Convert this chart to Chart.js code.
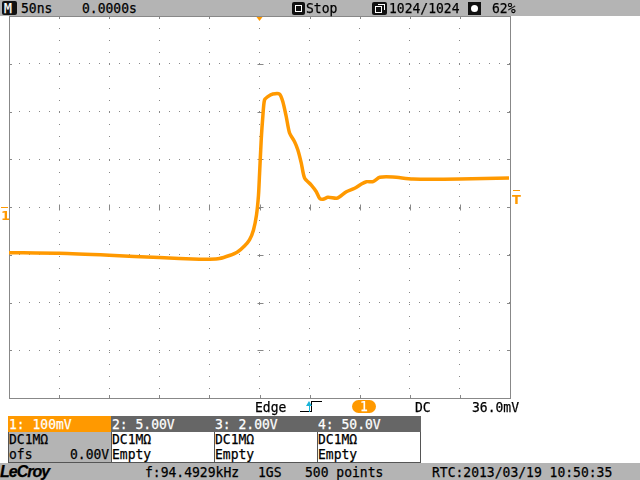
<!DOCTYPE html>
<html>
<head>
    <title>LeCroy capture</title>
    <script src="https://cdn.jsdelivr.net/npm/chart.js@4.4.0/dist/chart.umd.min.js"></script>
    <style>
        body { margin: 0; width: 640px; height: 480px; overflow: hidden; background: #fff; position: relative; }
        #scope { position: absolute; left: 0; top: 0; }
        .t { position: absolute; font: 14px 'DejaVu Sans Mono', monospace; line-height: 14px; white-space: pre; color: #000;
             transform: scaleX(0.93); transform-origin: 0 0; -webkit-text-stroke: 0.25px currentColor; }
        .bar { position: absolute; left: 0; width: 640px; background: #b4b4b4; }
        .box { position: absolute; border: 1px solid #555; box-sizing: border-box; }
    </style>
</head>
<body>
    <canvas id="scope" width="640" height="480"></canvas>

    <!-- top status bar -->
    <div class="bar" style="top:0;height:16px"></div>
    <div class="box" style="left:2px;top:1px;width:15px;height:14px;background:#111;border-radius:2px;border:none"></div>
    <div class="t" style="left:4px;top:1px;color:#fff">M</div>
    <div class="t" style="left:21px;top:1px">50ns</div>
    <div class="t" style="left:82px;top:1px">0.0000s</div>
    <div class="box" style="left:292px;top:2px;width:13px;height:13px;background:#111;border:none;border-radius:2px"></div>
    <div class="box" style="left:295px;top:5px;width:7px;height:7px;background:#111;border:1px solid #fff"></div>
    <div class="t" style="left:306px;top:1px">Stop</div>
    <div class="box" style="left:372px;top:2px;width:15px;height:13px;background:#111;border:none;border-radius:2px"></div>
    <div class="box" style="left:375px;top:6px;width:7px;height:7px;border:1px solid #fff"></div>
    <div class="box" style="left:378px;top:4px;width:7px;height:6px;border-top:1px solid #fff;border-right:1px solid #fff;border-left:none;border-bottom:none"></div>
    <div class="t" style="left:389px;top:1px">1024/1024</div>
    <div class="box" style="left:468px;top:2px;width:13px;height:13px;background:#111;border:none"></div>
    <div class="box" style="left:471px;top:5px;width:7px;height:7px;background:#fff;border:none;border-radius:4px"></div>
    <div class="t" style="left:492px;top:1px">62%</div>

    <!-- trigger line -->
    <div class="t" style="left:255px;top:400px">Edge</div>
    <div class="box" style="left:300px;top:401px;width:12px;height:11px;border:none;border-bottom:1px solid #000;border-right:1px solid #000"></div>
    <div class="box" style="left:311px;top:401px;width:11px;height:1px;border:none;background:#000"></div>
    <div class="box" style="left:309px;top:405px;width:1px;height:7px;border:none;background:#19b4d8"></div>
    <div style="position:absolute;left:306px;top:401px;width:0;height:0;border-left:3.5px solid transparent;border-right:3.5px solid transparent;border-bottom:5px solid #19b4d8"></div>
    <div class="box" style="left:352px;top:400px;width:24px;height:13px;background:#ff9900;border:none;border-radius:7px"></div>
    <div class="t" style="left:360px;top:399px;color:#fff">1</div>
    <div class="t" style="left:415px;top:400px">DC</div>
    <div class="t" style="left:472px;top:400px">36.0mV</div>

    <!-- channel boxes -->
    <div class="box" style="left:8px;top:416px;width:104px;height:47px;background:#b4b4b4"></div>
    <div class="box" style="left:8px;top:416px;width:104px;height:16px;background:#ff9900;border:none"></div>
    <div class="t" style="left:9px;top:417px;color:#fff">1: 100mV</div>
    <div class="t" style="left:9px;top:432px">DC1MΩ</div>
    <div class="t" style="left:9px;top:447px">ofs</div>
    <div class="t" style="left:70px;top:447px">0.00V</div>

    <div class="box" style="left:111px;top:416px;width:104px;height:47px;background:#fff"></div>
    <div class="box" style="left:111px;top:416px;width:104px;height:16px;background:#666;border:none"></div>
    <div class="t" style="left:112px;top:417px;color:#fff">2: 5.00V</div>
    <div class="t" style="left:112px;top:432px">DC1MΩ</div>
    <div class="t" style="left:112px;top:447px">Empty</div>

    <div class="box" style="left:214px;top:416px;width:104px;height:47px;background:#fff"></div>
    <div class="box" style="left:214px;top:416px;width:104px;height:16px;background:#666;border:none"></div>
    <div class="t" style="left:215px;top:417px;color:#fff">3: 2.00V</div>
    <div class="t" style="left:215px;top:432px">DC1MΩ</div>
    <div class="t" style="left:215px;top:447px">Empty</div>

    <div class="box" style="left:317px;top:416px;width:104px;height:47px;background:#fff"></div>
    <div class="box" style="left:317px;top:416px;width:104px;height:16px;background:#666;border:none"></div>
    <div class="t" style="left:318px;top:417px;color:#fff">4: 50.0V</div>
    <div class="t" style="left:318px;top:432px">DC1MΩ</div>
    <div class="t" style="left:318px;top:447px">Empty</div>

    <!-- footer -->
    <div class="bar" style="top:463px;height:17px"></div>
    <div class="t" style="left:0px;top:464px;font:italic bold 16px 'Liberation Sans';letter-spacing:-1px;line-height:16px;transform:none">LeCroy</div>
    <div class="t" style="left:145px;top:465px">f:94.4929kHz</div>
    <div class="t" style="left:258px;top:465px">1GS</div>
    <div class="t" style="left:305px;top:465px">500 points</div>
    <div class="t" style="left:432px;top:465px">RTC:2013/03/19 10:50:35</div>

    <script>
        // channel 1 trace, time in ns (trigger at 0), voltage in mV
        var timeNs = [-250, -200, -150, -100, -60, -50, -40, -30, -22, -15, -10, -6, -3, -1, 0,
                      1.7, 3.3, 5, 8.3, 13.3, 20, 23.3, 26.7, 30, 35, 38.3, 41.7, 45, 51.7, 56.7,
                      60, 63.3, 68.3, 76.7, 80, 86.7, 95, 101.7, 106.7, 113.3, 120, 133, 153, 200, 249];
        var ch1mV = [-95.7, -97, -101, -106, -109.5, -109.5, -108, -101.6, -94.2, -81.7, -69, -48, -16.8, 25, 67,
                     140, 189, 224, 231, 236.6, 236.6, 220.5, 189, 155, 136.8, 119.4, 92, 60.7, 46, 32,
                     18.2, 16.1, 20.3, 18.2, 21.6, 32, 39.2, 48.2, 53, 53, 62.2, 62.8, 58.6, 58.6, 60.7];

        var timeDiv = 50;      // ns/div
        var voltDiv = 100;     // mV/div
        var trigLevel = 36;    // mV
        var orange = '#ff9900';

        var points = timeNs.map(function (t, i) { return { x: t, y: ch1mV[i] }; });

        // border, division ticks and channel / trigger markers
        var scopeFrame = {
            id: 'scopeFrame',
            beforeDatasetsDraw: function (chart) {
                var c = chart.ctx, a = chart.chartArea;
                var xs = chart.scales.x, ys = chart.scales.y;
                c.save();
                c.strokeStyle = '#888';
                c.lineWidth = 1;
                c.strokeRect(a.left + 0.5, a.top + 0.5, a.right - a.left, a.bottom - a.top);
                var cx = Math.round(xs.getPixelForValue(0)) + 0.5;
                var cy = Math.round(ys.getPixelForValue(0)) + 0.5;
                c.beginPath();
                for (var t = -5 * timeDiv; t <= 5 * timeDiv; t += timeDiv) {
                    var px = Math.round(xs.getPixelForValue(t)) + 0.5;
                    c.moveTo(px, a.top); c.lineTo(px, a.top + 3);
                    c.moveTo(px, a.bottom); c.lineTo(px, a.bottom - 3);
                    c.moveTo(px, cy - 3); c.lineTo(px, cy + 3);
                }
                for (var v = -4 * voltDiv; v <= 4 * voltDiv; v += voltDiv) {
                    var py = Math.round(ys.getPixelForValue(v)) + 0.5;
                    c.moveTo(a.left, py); c.lineTo(a.left + 3, py);
                    c.moveTo(a.right, py); c.lineTo(a.right - 3, py);
                    c.moveTo(cx - 3, py); c.lineTo(cx + 3, py);
                }
                c.stroke();
                c.restore();
            },
            afterDraw: function (chart) {
                var c = chart.ctx, a = chart.chartArea;
                var xs = chart.scales.x, ys = chart.scales.y;
                c.save();
                c.fillStyle = orange;
                // ground marker
                var gy = Math.round(ys.getPixelForValue(0));
                c.fillRect(1, gy, 7, 1);
                c.font = 'bold 13px "DejaVu Sans"';
                c.textBaseline = 'top';
                c.fillText('1', 1, gy + 3);
                // trigger level marker
                var ty = Math.round(ys.getPixelForValue(trigLevel));
                c.fillRect(a.right + 3, ty, 7, 1);
                c.fillText('T', a.right + 2, ty + 4);
                // trigger position marker
                var tx = xs.getPixelForValue(0);
                c.beginPath();
                c.moveTo(tx - 3, a.top + 1); c.lineTo(tx + 3, a.top + 1); c.lineTo(tx, a.top + 5);
                c.closePath();
                c.fill();
                c.restore();
            }
        };

        var ctx = document.getElementById('scope').getContext('2d');
        var chart = new Chart(ctx, {
            type: 'line',
            data: {
                datasets: [{
                    label: 'CH1',
                    data: points,
                    borderColor: orange,
                    borderWidth: 3.5,
                    pointRadius: 0,
                    tension: 0.25,
                    fill: false
                }]
            },
            options: {
                responsive: false,
                animation: false,
                layout: { padding: { left: 9, top: 16, right: 130, bottom: 82 } },
                plugins: { legend: { display: false }, tooltip: { enabled: false } },
                scales: {
                    x: {
                        type: 'linear',
                        min: -5 * timeDiv,
                        max: 5 * timeDiv,
                        ticks: { display: false, stepSize: timeDiv },
                        grid: { color: '#888', drawTicks: false, lineWidth: 1 },
                        border: { display: false, dash: [1, 11] }
                    },
                    y: {
                        min: -4 * voltDiv,
                        max: 4 * voltDiv,
                        ticks: { display: false, stepSize: voltDiv },
                        grid: { color: '#888', drawTicks: false, lineWidth: 1 },
                        border: { display: false, dash: [1, 9] }
                    }
                }
            },
            plugins: [scopeFrame]
        });
    </script>
</body>
</html>
